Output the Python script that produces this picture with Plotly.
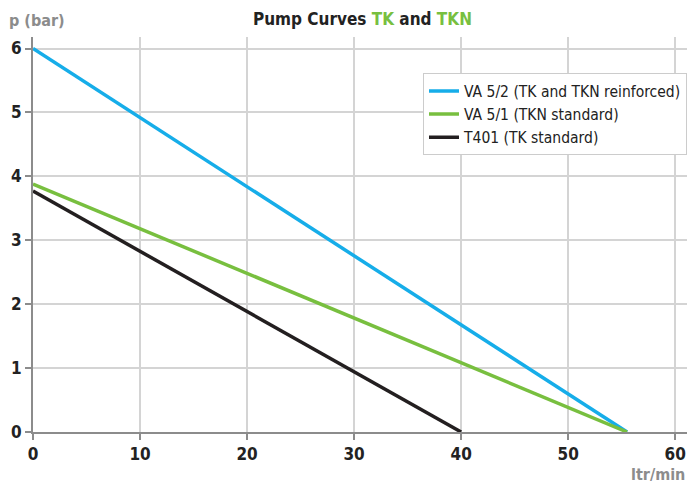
import plotly.graph_objects as go

flow_va52 = [0, 55.5]
p_va52 = [6.0, 0.0]
flow_va51 = [0, 55.5]
p_va51 = [3.88, 0.0]
flow_t401 = [0, 40]
p_t401 = [3.77, 0.0]

names = ["VA 5/2 (TK and TKN reinforced)", "VA 5/1 (TKN standard)", "T401 (TK standard)"]
colors = ["#16ade9", "#78bf3f", "#231f20"]
x_ticks = [0, 10, 20, 30, 40, 50, 60]
y_ticks = [0, 1, 2, 3, 4, 5, 6]

FONT = "DejaVu Sans Condensed, Roboto, sans-serif"

fig = go.Figure()
for xs, ys, n, c in zip([flow_va52, flow_va51, flow_t401], [p_va52, p_va51, p_t401], names, colors):
    fig.add_trace(go.Scatter(x=xs, y=ys, mode="lines", name=n,
                             line=dict(color=c, width=3.5)))

axis_common = dict(showline=True, linecolor="#8c8c8c", linewidth=2,
                   ticks="outside", ticklen=6, tickwidth=2, tickcolor="#8c8c8c",
                   showgrid=True, gridcolor="#d4d4d4", gridwidth=1.5,
                   zeroline=False, automargin=False,
                   tickfont=dict(family=FONT, size=17, color="#222222", weight="bold"))

fig.update_layout(
    width=689, height=485,
    margin=dict(l=33, r=2, t=37, b=53, autoexpand=False),
    paper_bgcolor="white", plot_bgcolor="white",
    font=dict(family=FONT),
    xaxis=dict(range=[0, 61.1], tickvals=x_ticks, **axis_common),
    yaxis=dict(range=[0, 6.18], tickvals=y_ticks, **axis_common),
    legend=dict(x=1, y=0.908, xanchor="right", yanchor="top",
                bgcolor="white", bordercolor="#cccccc", borderwidth=1,
                font=dict(family=FONT, size=15.5, color="#222222"),
                tracegroupgap=0, itemwidth=30),
    showlegend=True,
)

fig.add_annotation(text="<b>Pump Curves <span style='color:#78bf3f'>TK</span> and <span style='color:#78bf3f'>TKN</span></b>",
                   xref="paper", yref="paper", x=0.5, y=1, xanchor="center", yanchor="bottom",
                   xshift=2, yshift=6, showarrow=False, font=dict(family=FONT, size=17, color="#222222"))
fig.add_annotation(text="<b>p (bar)</b>", xref="paper", yref="paper", x=0, y=1,
                   xanchor="left", yanchor="bottom", xshift=-26, yshift=5, showarrow=False,
                   font=dict(family=FONT, size=16, color="#8c8c8c"))
fig.add_annotation(text="<b>ltr/min</b>", xref="paper", yref="paper", x=1, y=0,
                   xanchor="right", yanchor="top", yshift=-31, showarrow=False,
                   font=dict(family=FONT, size=16, color="#8c8c8c"))

fig.write_html("out.html",
               config={"displayModeBar": False},
               post_script="document.body.style.margin='0';document.documentElement.style.overflow='hidden';")
